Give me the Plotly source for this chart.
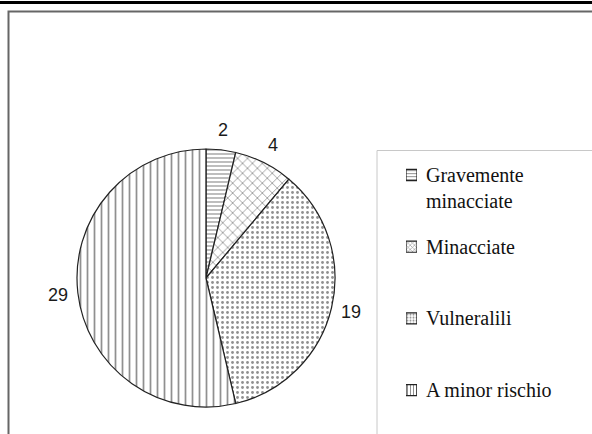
import math
import plotly.graph_objects as go

# ---- data ----
categories = ["Gravemente<br>minacciate", "Minacciate", "Vulneralili", "A minor rischio"]
values = [2, 4, 19, 29]
pattern_shapes = ["-", "x", ".", "|"]

W, H = 592, 434
def px(x):
    return x / W
def py(y):
    return 1 - y / H

# pie geometry (pixels)
cx, cy, R = 206, 278, 129
label_r = 149

fig = go.Figure()

fig.add_trace(go.Pie(
    labels=categories,
    values=values,
    sort=False,
    direction="clockwise",
    rotation=0,
    textinfo="none",
    marker=dict(
        colors=["white"] * 4,
        line=dict(color="#222", width=1.2),
        pattern=dict(shape=pattern_shapes, size=[4, 7, 5, 7], solidity=[0.3, 0.22, 0.25, 0.25],
                     fgcolor="#222", bgcolor="white", fillmode="overlay"),
    ),
    domain=dict(x=[px(cx - R), px(cx + R)], y=[py(cy + R), py(cy - R)]),
    automargin=False,
    showlegend=False,
    hoverinfo="label+value",
))

# legend swatches: small patterned bars on a side axis
fig.add_trace(go.Bar(
    y=list(range(len(categories))),
    x=[1] * len(categories),
    orientation="h",
    width=0.155,
    marker=dict(
        color="white",
        line=dict(color="#222", width=1.2),
        pattern=dict(shape=pattern_shapes, size=3, solidity=0.35, fgcolor="#222", bgcolor="white"),
    ),
    xaxis="x2", yaxis="y2",
    showlegend=False,
    hoverinfo="skip",
))

annotations = []

# value labels outside the slices, placed along each slice's mid angle
total = sum(values)
cum = 0
for v in values:
    mid = (cum + v / 2) / total * 2 * math.pi
    cum += v
    lx = cx + label_r * math.sin(mid)
    ly = cy - label_r * math.cos(mid)
    annotations.append(dict(x=px(lx), y=py(ly), xref="paper", yref="paper", text=str(v),
                            showarrow=False, xanchor="center", yanchor="middle",
                            font=dict(family="Liberation Sans, Arial", size=18, color="#1a1a1a")))

# legend texts
y_top, y_step = 175, 71.7
for i, lab in enumerate(categories):
    yc = y_top + y_step * i
    if "<br>" in lab:
        annotations.append(dict(x=px(424), y=py(yc - 13), xref="paper", yref="paper",
                                text=lab, showarrow=False, xanchor="left", yanchor="top",
                                align="left",
                                font=dict(family="Liberation Serif, Times New Roman", size=20, color="#111")))
    else:
        annotations.append(dict(x=px(424), y=py(yc), xref="paper", yref="paper",
                                text=lab, showarrow=False, xanchor="left", yanchor="middle",
                                align="left",
                                font=dict(family="Liberation Serif, Times New Roman", size=20, color="#111")))

shapes = [
    # top black rule
    dict(type="line", xref="paper", yref="paper", x0=0, x1=1, y0=py(2.5), y1=py(2.5),
         line=dict(color="black", width=3)),
    # inner frame
    dict(type="rect", xref="paper", yref="paper", x0=px(8.5), x1=px(620), y0=py(11.5), y1=py(470),
         line=dict(color="#666", width=2)),
    # legend box
    dict(type="rect", xref="paper", yref="paper", x0=px(377), x1=px(620), y0=py(150.5), y1=py(470),
         line=dict(color="#c8c8c8", width=1)),
]

half = 0.5 * y_step
fig.update_layout(
    width=W, height=H,
    margin=dict(l=0, r=0, t=0, b=0),
    paper_bgcolor="white",
    plot_bgcolor="rgba(0,0,0,0)",
    xaxis2=dict(domain=[px(406), px(417)], range=[0, 1], visible=False, fixedrange=True),
    yaxis2=dict(domain=[py(y_top + y_step * 3 + half), py(y_top - half)],
                range=[len(categories) - 0.5, -0.5], visible=False, anchor="x2"),
    xaxis=dict(visible=False), yaxis=dict(visible=False),
    annotations=annotations,
    shapes=shapes,
)

fig.write_html("out.html", config={"displayModeBar": False},
               post_script="document.body.style.margin='0';document.body.style.overflow='hidden';")
